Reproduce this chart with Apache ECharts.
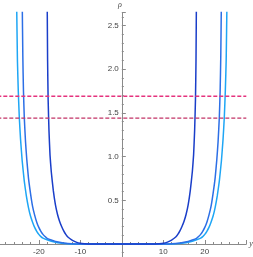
<!DOCTYPE html>
<html><head><meta charset="utf-8">
<script src="https://cdn.jsdelivr.net/npm/echarts@6/dist/echarts.min.js"></script>
<style>html,body{margin:0;padding:0;background:#fff}#c{width:253px;height:257px}</style>
</head><body><div id="c"></div>
<script>
// |y| positions and rho values (curves are symmetric in y)
const darkAbsY  = [0, 6, 8, 9, 10, 11, 12, 13, 13.5, 14, 14.5, 15, 15.5, 16, 16.5, 17, 17.3, 17.55, 17.75, 17.88, 17.98];
const darkRho   = [0, 0, 0.001, 0.003, 0.008, 0.022, 0.045, 0.08, 0.11, 0.15, 0.2, 0.26, 0.34, 0.45, 0.61, 0.83, 1.02, 1.3, 1.65, 2.1, 2.8];
const medAbsY   = [0, 8, 10, 12, 14, 15, 16, 17, 18, 18.5, 19, 19.5, 20, 20.5, 21, 21.5, 22, 22.5, 22.9, 23.2, 23.5, 23.7, 23.85, 24.0];
const medRho    = [0, 0, 0.001, 0.004, 0.012, 0.02, 0.03, 0.045, 0.065, 0.085, 0.11, 0.145, 0.19, 0.25, 0.33, 0.43, 0.58, 0.76, 0.97, 1.17, 1.45, 1.76, 2.15, 2.8];
const lightAbsY = [0, 9, 11, 13, 15, 16, 17, 18, 19, 19.5, 20, 20.5, 21, 21.5, 22, 22.5, 23, 23.5, 24.0, 24.4, 24.7, 24.95, 25.15, 25.35];
const lightRho  = [0, 0, 0.001, 0.004, 0.012, 0.02, 0.032, 0.048, 0.068, 0.085, 0.11, 0.145, 0.19, 0.25, 0.32, 0.42, 0.55, 0.72, 0.95, 1.2, 1.45, 1.76, 2.1, 2.8];
const hLevels   = [1.69, 1.44];
const xTicks    = [-20, -10, 10, 20];
const yTicks    = [0.5, 1, 1.5, 2, 2.5];

const X_MIN = -30, X_MAX = 30, Y_MIN = -0.5, Y_MAX = 2.65;
const G_LEFT = -2.7, G_RIGHT = 6.7, G_TOP = 12.4, G_BOTTOM = -30.7;
const W = 253, H = 257;
const gw = W - G_LEFT - G_RIGHT, gh = H - G_TOP - G_BOTTOM;
// pixel offsets so the axes sit at the zero lines
const yAxisOffset = -(gw * (0 - X_MIN) / (X_MAX - X_MIN));
const xAxisOffset = -(gh * (0 - Y_MIN) / (Y_MAX - Y_MIN));

function sym(absY, rho) {
  const left = absY.map((v, i) => [-v, rho[i]]).reverse();
  const right = absY.map((v, i) => [v, rho[i]]).slice(1);
  return left.concat(right);
}
const axisGray = '#8a8a8a';
const chart = echarts.init(document.getElementById('c'), null, {renderer: 'canvas'});
const curve = (data, color) => ({type: 'line', data, symbol: 'none', smooth: 0.15, clip: true,
  lineStyle: {color, width: 1.5}, z: 3, animation: false});
const hline = (v, color) => ({type: 'line', data: [[X_MIN, v], [X_MAX, v]], symbol: 'none',
  lineStyle: {color, width: 1.4, type: [4, 2]}, z: 4, animation: false});
chart.setOption({
  animation: false,
  grid: {left: G_LEFT, right: G_RIGHT, top: G_TOP, bottom: G_BOTTOM, containLabel: false, outerBoundsMode: 'none'},
  xAxis: {
    type: 'value', min: X_MIN, max: X_MAX, interval: 10, position: 'bottom', offset: xAxisOffset,
    axisLine: {onZero: false, lineStyle: {color: axisGray, width: 1}},
    axisTick: {inside: true, length: 4, lineStyle: {color: axisGray}},
    minorTick: {show: true, splitNumber: 5, length: 2, lineStyle: {color: axisGray}},
    splitLine: {show: false},
    axisLabel: {fontSize: 8, color: '#444', margin: 4, fontFamily: 'Liberation Sans',
      formatter: v => xTicks.includes(v) ? String(v) : ''},
    name: 'y', nameLocation: 'end', nameGap: 3,
    nameTextStyle: {fontSize: 8, color: '#444', fontStyle: 'italic', fontFamily: 'Liberation Serif'}
  },
  yAxis: {
    type: 'value', min: Y_MIN, max: Y_MAX, interval: 0.5, position: 'left', offset: yAxisOffset,
    axisLine: {onZero: false, lineStyle: {color: axisGray, width: 1}},
    axisTick: {inside: true, length: 4, lineStyle: {color: axisGray}},
    minorTick: {show: true, splitNumber: 5, length: 2, lineStyle: {color: axisGray}},
    splitLine: {show: false},
    axisLabel: {fontSize: 8, color: '#444', margin: 3, fontFamily: 'Liberation Sans',
      formatter: v => yTicks.some(t => Math.abs(t - v) < 1e-9) ? v.toFixed(1) : ''},
    name: 'ρ', nameLocation: 'end', nameGap: 4,
    nameTextStyle: {fontSize: 8, color: '#444', fontStyle: 'italic', fontFamily: 'Liberation Serif', align: 'right'}
  },
  series: [
    curve(sym(lightAbsY, lightRho), '#1ea6f5'),
    curve(sym(medAbsY, medRho), '#2c6fe6'),
    curve(sym(darkAbsY, darkRho), '#1a3ec9'),
    hline(hLevels[0], '#e5337e'),
    hline(hLevels[1], '#c23366')
  ]
});
</script></body></html>
